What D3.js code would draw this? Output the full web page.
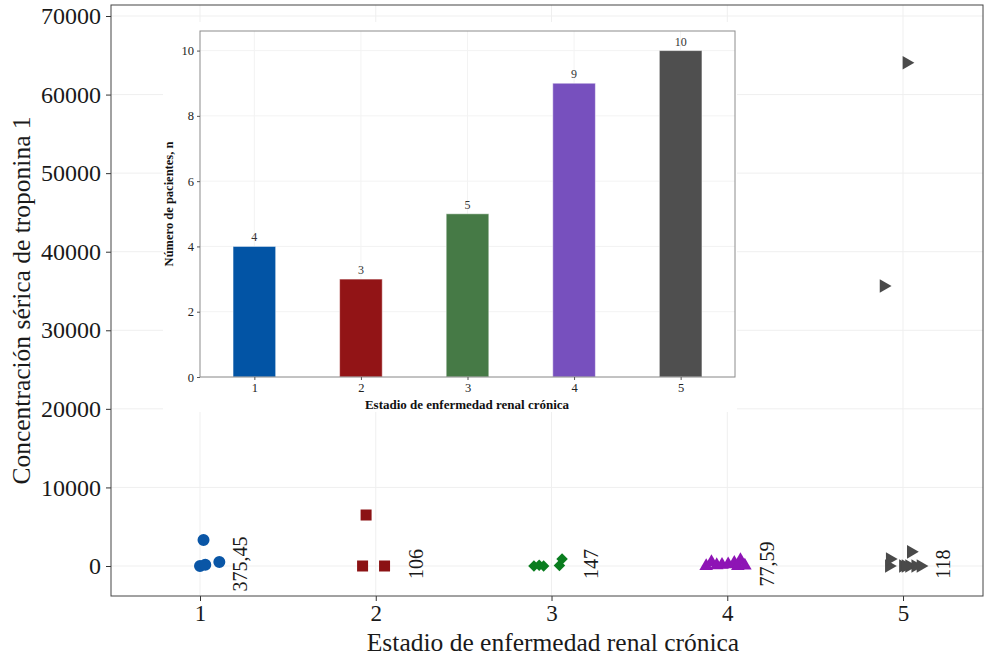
<!DOCTYPE html>
<html>
<head>
<meta charset="utf-8">
<script src="https://cdn.jsdelivr.net/npm/d3@7"></script>
<style>
  body { margin: 0; background: #fff; }
  svg, svg text { font-family: "Liberation Serif", "Times New Roman", serif !important; }
</style>
</head>
<body>
<svg id="chart" width="984" height="658"></svg>
<script>
// main scatter: stage of each patient, jittered x and troponin value
const pointStage = [1, 1, 1, 1, 2, 2, 2, 3, 3, 3, 3, 3,
  4, 4, 4, 4, 4, 4, 4, 4, 4, 5, 5, 5, 5, 5, 5, 5, 5, 5, 5];
const pointX = [1.00, 1.03, 1.02, 1.11, 1.945, 1.925, 2.05,
  2.90, 2.93, 2.955, 3.045, 3.06,
  3.88, 3.91, 3.94, 3.97, 4.005, 4.04, 4.06, 4.075, 4.10,
  4.92, 4.925, 4.89, 5.02, 5.045, 5.0, 5.035, 5.07, 5.10, 5.015];
const pointTroponin = [0, 150, 3300, 500, 6490, 0, 0,
  0, 100, 0, 50, 880,
  0, 500, 100, 150, 200, 400, 0, 750, 50,
  0, 900, 35640, 64060, 1800, 0, 0, 0, 0, 0];

// group labels next to each stage
const stages = [1, 2, 3, 4, 5];
const groupLabels = ["375,45", "106", "147", "77,59", "118"];
const yTicks = [0, 10000, 20000, 30000, 40000, 50000, 60000, 70000];

// inset bar chart
const patientCounts = [4, 3, 5, 9, 10];
const insetYTicks = [0, 2, 4, 6, 8, 10];

const pointColors = ["#0a56a6", "#8b1214", "#0a7d1f", "#8e14b5", "#4a4a4a"];
const barColors = ["#0254a5", "#921416", "#467a46", "#7750be", "#4f4f4f"];

const svg = d3.select("#chart");
const m = { left: 111, right: 983, top: 5, bottom: 596 };

const x = d3.scaleLinear().domain([0.4936, 5.455]).range([m.left, m.right]);
const y = d3.scaleLinear().domain([-3818, 71400]).range([m.bottom, m.top]);

// Grid
svg.append("g")
  .selectAll("line")
  .data(yTicks)
  .join("line")
  .attr("x1", m.left).attr("x2", m.right)
  .attr("y1", (d) => y(d)).attr("y2", (d) => y(d))
  .attr("stroke", "#efefef");
svg.append("g")
  .selectAll("line")
  .data(stages)
  .join("line")
  .attr("y1", m.top).attr("y2", m.bottom)
  .attr("x1", (d) => x(d)).attr("x2", (d) => x(d))
  .attr("stroke", "#efefef");

// Axes
const yAxis = svg.append("g")
  .attr("transform", `translate(${m.left},0)`)
  .call(d3.axisLeft(y).tickValues(yTicks).tickSize(5).tickPadding(5).tickFormat(d3.format("d")));
const xAxis = svg.append("g")
  .attr("transform", `translate(0,${m.bottom})`)
  .call(d3.axisBottom(x).tickValues(stages).tickSize(5).tickPadding(4).tickFormat(d3.format("d")));
[yAxis, xAxis].forEach((a) => {
  a.attr("font-family", null);
  a.select(".domain").remove();
  a.selectAll("line").attr("stroke", "#333");
  a.selectAll("text").attr("font-size", 24).attr("fill", "#1a1a1a");
});
xAxis.selectAll("text").attr("font-size", 23);

svg.append("text")
  .attr("transform", `translate(30,${(m.top + m.bottom) / 2}) rotate(-90)`)
  .attr("text-anchor", "middle")
  .attr("font-size", 25.5)
  .attr("fill", "#1a1a1a")
  .text("Concentración sérica de troponina 1");
svg.append("text")
  .attr("x", 553)
  .attr("y", 651)
  .attr("text-anchor", "middle")
  .attr("font-size", 25.5)
  .attr("fill", "#1a1a1a")
  .text("Estadio de enfermedad renal crónica");

// Inset
const ins = { left: 200, right: 735, top: 31, bottom: 377 };
const xi = d3.scaleLinear().domain([0.49, 5.51]).range([ins.left, ins.right]);
const yi = d3.scaleLinear().domain([0, 10.6]).range([ins.bottom, ins.top]);
const inset = svg.append("g");

inset.append("rect")
  .attr("x", 163).attr("y", 22)
  .attr("width", 574).attr("height", 390)
  .attr("fill", "#fff");

inset.append("g")
  .selectAll("line")
  .data(insetYTicks)
  .join("line")
  .attr("x1", ins.left).attr("x2", ins.right)
  .attr("y1", (d) => yi(d)).attr("y2", (d) => yi(d))
  .attr("stroke", "#f3f3f3");
inset.append("g")
  .selectAll("line")
  .data(stages)
  .join("line")
  .attr("y1", ins.top).attr("y2", ins.bottom)
  .attr("x1", (d) => xi(d)).attr("x2", (d) => xi(d))
  .attr("stroke", "#f3f3f3");

const barW = xi(1.4) - xi(1);
inset.append("g")
  .selectAll("rect")
  .data(stages)
  .join("rect")
  .attr("x", (d) => xi(d) - barW / 2)
  .attr("y", (d, i) => yi(patientCounts[i]))
  .attr("width", barW)
  .attr("height", (d, i) => yi(0) - yi(patientCounts[i]))
  .attr("fill", (d, i) => barColors[i])
  .attr("stroke", "#ffffff")
  .attr("stroke-opacity", 0.5);

inset.append("g")
  .selectAll("text")
  .data(stages)
  .join("text")
  .attr("x", (d) => xi(d))
  .attr("y", (d, i) => yi(patientCounts[i]) - 5)
  .attr("text-anchor", "middle")
  .attr("font-size", 12)
  .attr("fill", "#333")
  .text((d, i) => patientCounts[i]);

inset.append("rect")
  .attr("x", ins.left).attr("y", ins.top)
  .attr("width", ins.right - ins.left).attr("height", ins.bottom - ins.top)
  .attr("fill", "none")
  .attr("stroke", "#8c8c8c");

const yiAxis = inset.append("g")
  .attr("transform", `translate(${ins.left},0)`)
  .call(d3.axisLeft(yi).tickValues(insetYTicks).tickSize(3).tickPadding(3));
const xiAxis = inset.append("g")
  .attr("transform", `translate(0,${ins.bottom})`)
  .call(d3.axisBottom(xi).tickValues(stages).tickSize(3).tickPadding(3).tickFormat(d3.format("d")));
[yiAxis, xiAxis].forEach((a) => {
  a.attr("font-family", null);
  a.select(".domain").remove();
  a.selectAll("line").attr("stroke", "#555");
  a.selectAll("text").attr("font-size", 12.5).attr("fill", "#222");
});

inset.append("text")
  .attr("transform", `translate(173,204) rotate(-90)`)
  .attr("text-anchor", "middle")
  .attr("font-size", 12.5)
  .attr("font-weight", "bold")
  .attr("fill", "#111")
  .text("Número de pacientes, n");
inset.append("text")
  .attr("x", 467)
  .attr("y", 409)
  .attr("text-anchor", "middle")
  .attr("font-size", 13)
  .attr("font-weight", "bold")
  .attr("fill", "#111")
  .text("Estadio de enfermedad renal crónica");

// Points
const shapes = [
  { type: d3.symbolCircle, size: 113, rot: 0 },
  { type: d3.symbolSquare, size: 121, rot: 0 },
  { type: d3.symbolSquare, size: 66, rot: 45 },
  { type: d3.symbolTriangle, size: 80, rot: 0 },
  { type: d3.symbolTriangle, size: 80, rot: 90 },
];
svg.append("g")
  .selectAll("path")
  .data(pointX)
  .join("path")
  .attr("d", (d, i) => {
    const s = shapes[pointStage[i] - 1];
    return d3.symbol(s.type, s.size)();
  })
  .attr("transform", (d, i) =>
    `translate(${x(d)},${y(pointTroponin[i])}) rotate(${shapes[pointStage[i] - 1].rot})`)
  .attr("fill", (d, i) => pointColors[pointStage[i] - 1]);

svg.append("g")
  .selectAll("text")
  .data(stages)
  .join("text")
  .attr("transform", (d) => `translate(${x(d + 0.227)},${y(250)}) rotate(-90)`)
  .attr("text-anchor", "middle")
  .attr("dy", "0.35em")
  .attr("font-size", 20)
  .attr("fill", "#1a1a1a")
  .text((d, i) => groupLabels[i]);

// Panel border
svg.append("rect")
  .attr("x", m.left).attr("y", m.top)
  .attr("width", m.right - m.left).attr("height", m.bottom - m.top)
  .attr("fill", "none")
  .attr("stroke", "#444");
</script>
</body>
</html>
